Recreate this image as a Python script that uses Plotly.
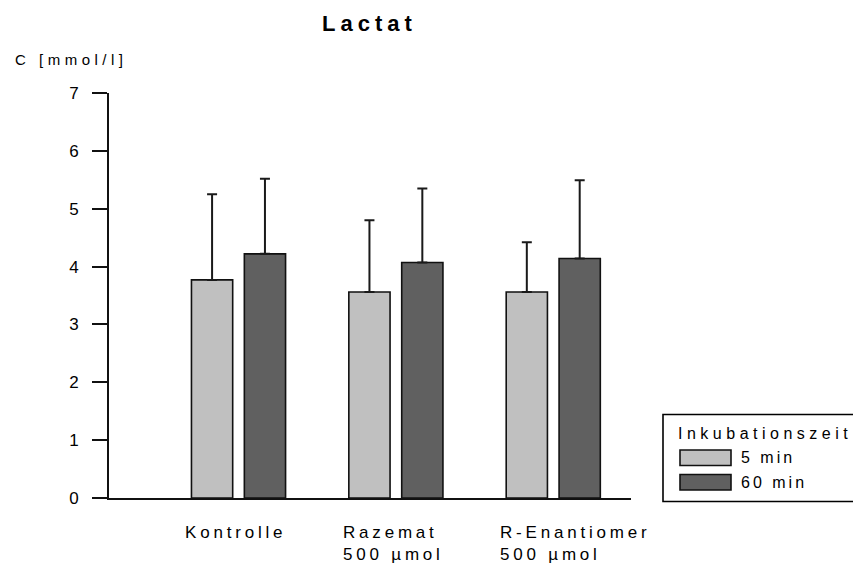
import json
import plotly.graph_objects as go

# ---- data -------------------------------------------------------------
categories = ["Kontrolle", "Razemat<br>500 µmol", "R-Enantiomer<br>500 µmol"]
series_names = ["5 min", "60 min"]
mean_5min = [3.77, 3.56, 3.56]
upper_5min = [5.25, 4.80, 4.42]      # mean + SD
mean_60min = [4.22, 4.07, 4.14]
upper_60min = [5.52, 5.35, 5.49]     # mean + SD
y_ticks = [0, 1, 2, 3, 4, 5, 6, 7]
title_text = "Lactat"
y_title = "C [mmol/l]"
legend_title = "Inkubationszeit"

# ---- geometry helpers ------------------------------------------------
W, H = 853, 568
ML, MR, MT, MB = 109, 222, 93, 70
PW, PH = W - ML - MR, H - MT - MB


def px(x):
    return (x - ML) / PW


def py(y):
    return (H - MB - y) / PH


FONT = "Liberation Sans, Arial, sans-serif"
LIGHT = "#c0c0c0"
DARK = "#606060"
BAR_W = 0.262
HALF_SEP = 0.168

idx = list(range(len(categories)))
means = [mean_5min, mean_60min]
uppers = [upper_5min, upper_60min]
colors = [LIGHT, DARK]
offsets = [-HALF_SEP - BAR_W / 2, HALF_SEP - BAR_W / 2]

fig = go.Figure()
for name, m, u, c, off in zip(series_names, means, uppers, colors, offsets):
    fig.add_trace(go.Bar(
        x=idx, y=m, name=name,
        width=BAR_W, offset=off,
        marker=dict(color=c, line=dict(color="#111111", width=1.6)),
        error_y=dict(type="data", symmetric=False,
                     array=[a - b for a, b in zip(u, m)],
                     arrayminus=[0] * len(m),
                     color="#1a1a1a", thickness=2, width=5),
        showlegend=False,
    ))

annotations = []
spacings = []

# title
annotations.append(dict(text=title_text, x=px(369), y=py(23.5), xref="paper", yref="paper",
                        xanchor="center", yanchor="middle", align="center", showarrow=False,
                        font=dict(family=FONT, size=22, color="black", weight="bold")))
spacings.append(5)

# y-axis title
annotations.append(dict(text=y_title, x=px(13), y=py(59), xref="paper", yref="paper",
                        xanchor="left", yanchor="middle", align="left", showarrow=False,
                        font=dict(family=FONT, size=15, color="black")))
spacings.append(4.5)

# category labels (left aligned blocks under each group)
for i, cat in zip(idx, categories):
    annotations.append(dict(text=cat, x=i - 0.35, y=py(521), xref="x", yref="paper",
                            xanchor="left", yanchor="top", align="left", showarrow=False,
                            font=dict(family=FONT, size=17, color="black")))
    spacings.append(3.8)

# legend box
fig.add_shape(type="rect", xref="paper", yref="paper",
              x0=px(663), x1=px(880), y0=py(501.5), y1=py(414.5),
              line=dict(color="black", width=1.6), fillcolor="white")
annotations.append(dict(text=legend_title, x=px(676), y=py(433.5), xref="paper", yref="paper",
                        xanchor="left", yanchor="middle", align="left", showarrow=False,
                        font=dict(family=FONT, size=16, color="black")))
spacings.append(4.5)

for k, (name, c) in enumerate(zip(series_names, colors)):
    top = 450 + k * 24.5
    fig.add_shape(type="rect", xref="paper", yref="paper",
                  x0=px(680), x1=px(731), y0=py(top + 15.5), y1=py(top),
                  line=dict(color="#111111", width=1.6), fillcolor=c)
    annotations.append(dict(text=name, x=px(739), y=py(top + 7.5), xref="paper", yref="paper",
                            xanchor="left", yanchor="middle", align="left", showarrow=False,
                            font=dict(family=FONT, size=16, color="black")))
    spacings.append(3)

fig.update_layout(
    width=W, height=H,
    margin=dict(l=ML, r=MR, t=MT, b=MB, pad=0),
    paper_bgcolor="white", plot_bgcolor="white",
    barmode="overlay",
    font=dict(family=FONT, size=16, color="black"),
    annotations=annotations,
    xaxis=dict(range=[-0.823, 2.494], showgrid=False, zeroline=False,
               showticklabels=False, ticks="", showline=True,
               linecolor="#111111", linewidth=2),
    yaxis=dict(range=[0, 7], tickvals=y_ticks, showgrid=False, zeroline=False,
               showline=True, linecolor="#111111", linewidth=2,
               ticks="outside", ticklen=15, tickwidth=2, tickcolor="#111111",
               ticklabelstandoff=10,
               tickfont=dict(family=FONT, size=17, color="black")),
)

post = """
(function(){
  var sp = %s;
  var gd = document.getElementById('{plot_id}');
  function apply(){
    sp.forEach(function(s, i){
      var g = gd.querySelector('g.annotation[data-index="' + i + '"] text.annotation-text');
      if (g) { g.style.letterSpacing = s + 'px'; }
    });
  }
  apply();
  setTimeout(apply, 0);
  if (gd.on) { gd.on('plotly_afterplot', apply); }
})();
""" % json.dumps(spacings)

fig.write_html("out.html", post_script=post)
